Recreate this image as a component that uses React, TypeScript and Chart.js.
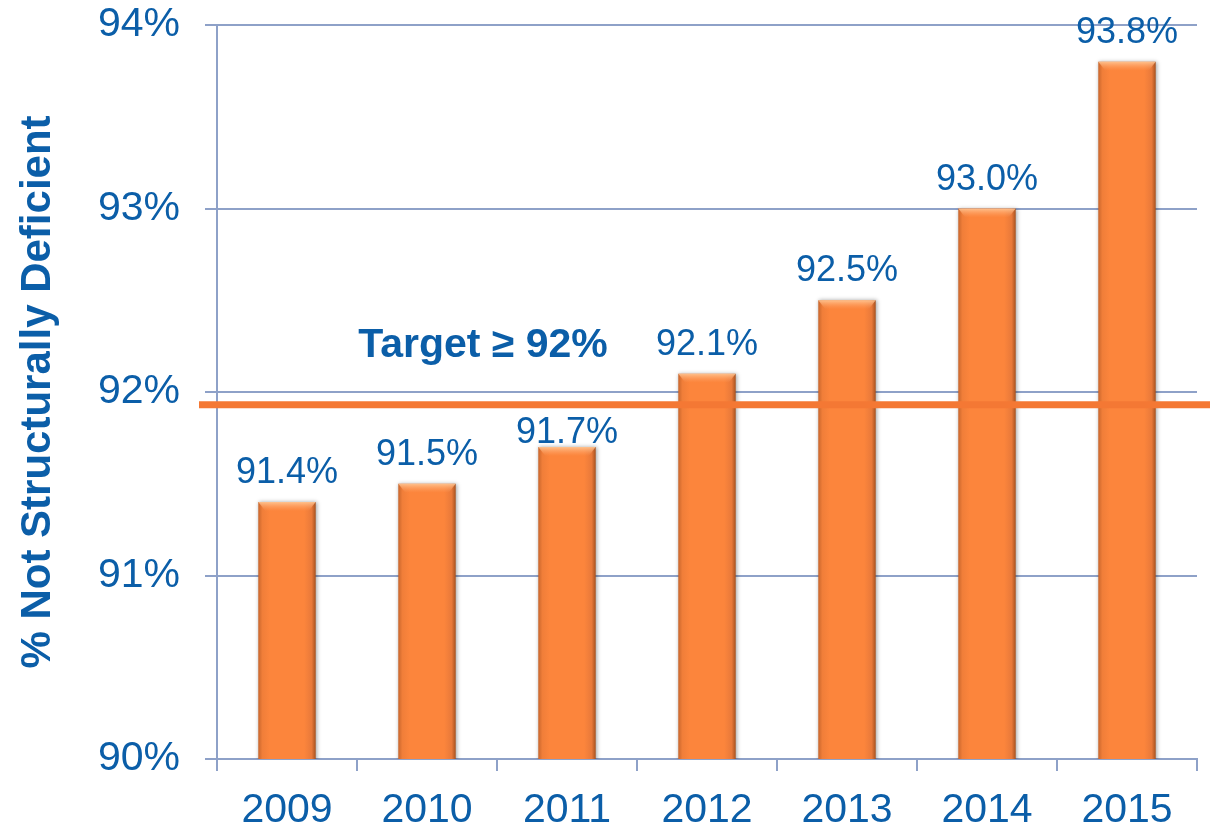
import React, { useEffect, useRef } from "react";
import { Chart, registerables } from "chart.js";

Chart.register(...registerables);

const years = ["2009", "2010", "2011", "2012", "2013", "2014", "2015"];
const notDeficientPct = [91.4, 91.5, 91.7, 92.1, 92.5, 93.0, 93.8];
const valueLabels = ["91.4%", "91.5%", "91.7%", "92.1%", "92.5%", "93.0%", "93.8%"];
const targetValue = 91.93;
const targetLabel = "Target \u2265 92%";
const yTitle = "% Not Structurally Deficient";

const BLUE = "#0B5EA8";
const GRID = "#8EA1C8";
const FONT = "'Liberation Sans', Arial, sans-serif";
const BAR_PCT = 0.41;

const overlayPlugin = {
  id: "overlay",
  beforeDatasetsDraw(chart: any) {
    const ctx = chart.ctx;
    ctx.save();
    ctx.shadowColor = "rgba(0,0,0,0.35)";
    ctx.shadowBlur = 4;
    ctx.shadowOffsetX = 1;
    ctx.shadowOffsetY = 0;
  },
  afterDatasetsDraw(chart: any) {
    const ctx = chart.ctx;
    ctx.restore();
    const meta = chart.getDatasetMeta(0);
    meta.data.forEach((bar: any) => {
      const half = bar.width / 2;
      if (!isFinite(bar.x) || !isFinite(bar.y) || !isFinite(half)) return;
      const g = ctx.createLinearGradient(0, bar.y, 0, bar.y + 9);
      g.addColorStop(0, "rgba(255,200,150,0.9)");
      g.addColorStop(1, "rgba(255,160,100,0)");
      ctx.save();
      ctx.fillStyle = g;
      ctx.beginPath();
      ctx.moveTo(bar.x - half, bar.y);
      ctx.lineTo(bar.x + half, bar.y);
      ctx.lineTo(bar.x + half - 7, bar.y + 9);
      ctx.lineTo(bar.x - half + 7, bar.y + 9);
      ctx.closePath();
      ctx.fill();
      ctx.restore();
    });
    const y = chart.scales.y.getPixelForValue(targetValue);
    ctx.save();
    ctx.strokeStyle = "#F47834";
    ctx.lineWidth = 7;
    ctx.beginPath();
    ctx.moveTo(chart.chartArea.left - 18, y);
    ctx.lineTo(chart.width, y);
    ctx.stroke();
    ctx.restore();
    ctx.save();
    ctx.fillStyle = BLUE;
    ctx.font = `36px ${FONT}`;
    ctx.textAlign = "center";
    ctx.textBaseline = "alphabetic";
    meta.data.forEach((bar: any, i: number) => {
      let base = bar.y - 19;
      // keep label clear of the target line
      if (base - 27 < y + 4 && base > y - 4) base = bar.y - 4;
      ctx.fillText(valueLabels[i], bar.x, base);
    });
    ctx.font = `bold 41px ${FONT}`;
    const tx = chart.scales.x.getPixelForValue(1.4);
    ctx.fillText(targetLabel, tx, y - 48);
    ctx.restore();
  },
};

export default function App() {
  const ref = useRef<HTMLCanvasElement>(null);
  useEffect(() => {
    const canvas = ref.current!;
    const chart = new Chart(canvas, {
      type: "bar",
      data: {
        labels: years,
        datasets: [
          {
            data: notDeficientPct,
            barPercentage: BAR_PCT,
            categoryPercentage: 1,
            backgroundColor: (c: any) => {
              const ch = c.chart;
              const xs = ch.scales?.x;
              const fallback = "#F9823A";
              if (!xs || c.dataIndex === undefined) return fallback;
              const cx = xs.getPixelForValue(c.dataIndex);
              const w = (xs.width / years.length) * BAR_PCT;
              if (!isFinite(cx) || !isFinite(w) || w <= 0) return fallback;
              const g = ch.ctx.createLinearGradient(cx - w / 2, 0, cx + w / 2, 0);
              g.addColorStop(0, "#C9662C");
              g.addColorStop(0.07, "#F07E39");
              g.addColorStop(0.2, "#FC853C");
              g.addColorStop(0.8, "#FC853C");
              g.addColorStop(0.93, "#E8793A");
              g.addColorStop(1, "#A8521F");
              return g;
            },
            borderWidth: 0,
          },
        ],
      },
      options: {
        animation: false,
        responsive: false,
        devicePixelRatio: 1,
        layout: { padding: { top: 25, right: 13, left: 0, bottom: 0 } },
        plugins: { legend: { display: false }, tooltip: { enabled: false } },
        scales: {
          x: {
            grid: {
              drawOnChartArea: false,
              drawTicks: true,
              tickLength: 12,
              color: GRID,
              lineWidth: 2,
              offset: true,
            },
            border: { display: true, color: GRID, width: 2 },
            ticks: {
              color: BLUE,
              font: { family: FONT, size: 41 },
              padding: 15,
              maxRotation: 0,
            },
            afterFit: (s: any) => {
              s.height = 69;
              s.paddingLeft = 0;
              s.paddingRight = 0;
            },
          },
          y: {
            min: 90,
            max: 94,
            ticks: {
              stepSize: 1,
              color: BLUE,
              font: { family: FONT, size: 41 },
              padding: 25,
              callback: (v: any) => `${v}%`,
            },
            grid: {
              color: GRID,
              lineWidth: 2,
              tickLength: 12,
              drawTicks: true,
            },
            border: { display: true, color: GRID, width: 2 },
            title: {
              display: true,
              text: yTitle,
              color: BLUE,
              font: { family: FONT, size: 42, weight: "bold" },
              padding: { top: 13, bottom: 0 },
            },
            afterFit: (s: any) => {
              s.width = 217;
              s.paddingTop = 0;
              s.paddingBottom = 0;
            },
          },
        },
      },
      plugins: [overlayPlugin],
    });
    return () => chart.destroy();
  }, []);
  return (
    <div style={{ position: "absolute", left: 0, top: 0, width: 1210, height: 828, background: "#fff" }}>
      <canvas ref={ref} width={1210} height={828} />
    </div>
  );
}
